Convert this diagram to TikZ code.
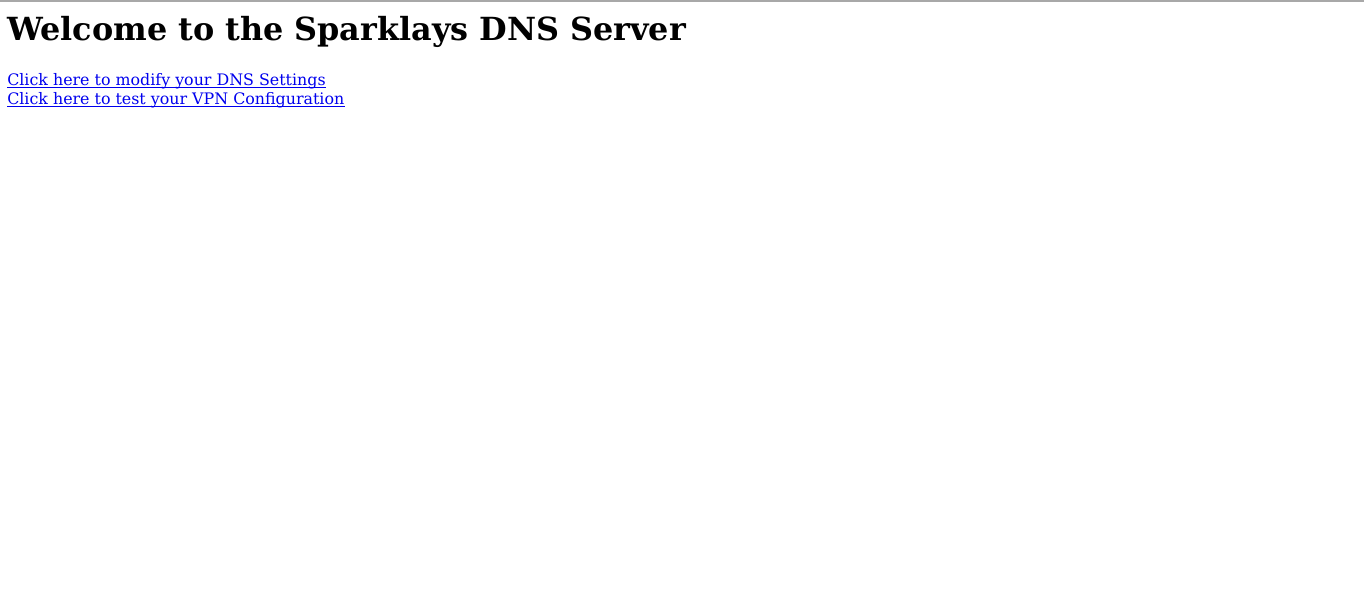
\documentclass[tikz,border=0pt]{standalone}
\usepackage{fontspec}
\setmainfont{DejaVu Serif}
\usepackage{xcolor}
\definecolor{link blue}{HTML}{0000EE}
\definecolor{rule gray}{HTML}{A8A8A8}

\begin{document}
\begin{tikzpicture}[x=0.75pt, y=-0.75pt,
		heading/.style = {anchor=base west, inner sep=0, font=\fontsize{23.88}{29}\selectfont\bfseries},
		link/.style = {anchor=base west, inner sep=0, text=link blue, font=\fontsize{11.89}{14}\selectfont}]
			% page
			\useasboundingbox[fill=white] (0, 0) rectangle (1364, 612);
			% top rule
			\draw[rule gray, line width=1.5pt] (0, 1) -- (1364, 1);
			% heading
			\node[heading] (title) at (7, 40.5) {Welcome to the Sparklays DNS Server};
			% links
			\node[link] (dns) at (7, 85) {Click here to modify your DNS Settings};
			\node[link] (vpn) at (7, 104) {Click here to test your VPN Configuration};
			% underlines
			\draw[link blue, line width=0.75pt]
				([yshift=-1.6pt]dns.base west) -- ([yshift=-1.6pt]dns.base east)
				([yshift=-1.6pt]vpn.base west) -- ([yshift=-1.6pt]vpn.base east);
		\end{tikzpicture}
\end{document}
